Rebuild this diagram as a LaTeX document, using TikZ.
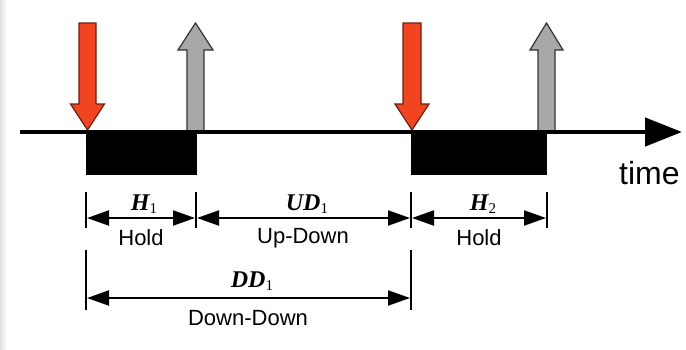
\documentclass[tikz,border=0pt]{standalone}
\usepackage{fontspec}
\setmainfont{Liberation Sans}
\newfontfamily\lblserif{Liberation Serif}
\usetikzlibrary{arrows.meta}
\definecolor{keydown}{HTML}{F2441E}
\definecolor{keydownline}{HTML}{6A2010}
\definecolor{keyup}{HTML}{A8A8A8}
\definecolor{keyupline}{HTML}{333333}
\newcommand\dimlbl[2]{{\lblserif\fontsize{24}{26}\selectfont\bfseries\itshape #1}{\lblserif\fontsize{15}{15}\selectfont\raisebox{-3.5pt}{#2}}}
\tikzset{
  downarrow/.style={fill=keydown, draw=keydownline, line width=1.2pt, line join=miter},
  uparrow/.style={fill=keyup, draw=keyupline, line width=1.2pt, line join=miter},
  pressbox/.style={fill=black, draw=none},
  tick/.style={line width=1.8pt},
  dimline/.style={line width=2pt, {Triangle[length=22pt,width=15pt]}-{Triangle[length=22pt,width=15pt]}, shorten <=1pt, shorten >=1pt},
  lbltxt/.style={font=\fontsize{22}{26}\selectfont, inner sep=0pt},
  mathlbl/.style={inner sep=0pt}
}
\begin{document}
\begin{tikzpicture}[x=1pt,y=-1pt]
\useasboundingbox (0,0) rectangle (686,349);
\shade[left color=black!12, right color=white] (0,0) rectangle (7,349);
% press boxes
\fill[pressbox] (86,130) rectangle (197,175);
\fill[pressbox] (411,130) rectangle (547,175);
% key arrows
\draw[downarrow] (79,23) -- (96,23) -- (96,104) -- (104.5,104) -- (87.5,130) -- (70.5,104) -- (79,104) -- cycle;
\draw[uparrow] (187,132) -- (187,50) -- (178,50) -- (195.5,23) -- (213,50) -- (204,50) -- (204,132);
\draw[downarrow] (403,23) -- (421,23) -- (421,104) -- (429,104) -- (412,130) -- (395,104) -- (403,104) -- cycle;
\draw[uparrow] (538,132) -- (538,50) -- (530,50) -- (546.5,23) -- (563,50) -- (555,50) -- (555,132);
% time axis
\coordinate (axs) at (20,132);
\coordinate (axe) at (682,132);
\draw[line width=4.5pt, -{Triangle[length=37pt,width=28pt]}] (axs) -- (axe);
\node[lbltxt, font=\fontsize{32}{36}\selectfont, anchor=base west] (time) at (619,184) {time};
% ticks
\foreach \n/\x in {a/86,b/196,c/411,d/547}{
  \coordinate (\n) at (\x,218);
  \draw[tick] (\x,192) -- (\x,228);
}
\foreach \n/\x in {e/86,f/411}{
  \coordinate (\n) at (\x,298);
  \draw[tick] (\x,250) -- (\x,310);
}
% dimension lines
\draw[dimline] (a) -- (b);
\draw[dimline] (b) -- (c);
\draw[dimline] (c) -- (d);
\draw[dimline] (e) -- (f);
% labels
\node[mathlbl] (h1) at (144,204) {\dimlbl{H}{1}};
\node[lbltxt] (hold1) at (141,238) {Hold};
\node[mathlbl] (ud1) at (307,204) {\dimlbl{UD}{1}};
\node[lbltxt] (updown) at (303,238) {Up-Down};
\node[mathlbl] (h2) at (483,204) {\dimlbl{H}{2}};
\node[lbltxt] (hold2) at (479,238) {Hold};
\node[mathlbl] (dd1) at (252,281) {\dimlbl{DD}{1}};
\node[lbltxt] (dd) at (248,318) {Down-Down};
\end{tikzpicture}
\end{document}
